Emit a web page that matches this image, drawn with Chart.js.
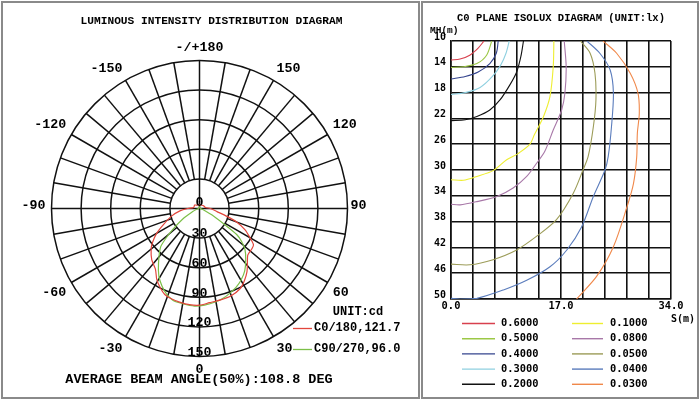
<!DOCTYPE html>
<html><head><meta charset="utf-8">
<script src="https://cdn.jsdelivr.net/npm/chart.js@4/dist/chart.umd.min.js"></script>
<style>
html,body{margin:0;padding:0;background:#fff;width:700px;height:401px;overflow:hidden;}
.box{position:absolute;border:2px solid #8a8a8a;box-sizing:border-box;}
#c1{position:absolute;left:0;top:0;width:420px;height:401px;}
#c2{position:absolute;left:421px;top:0;width:279px;height:401px;}
</style></head><body>
<div class="box" style="left:1px;top:1px;width:419px;height:398px"></div>
<div class="box" style="left:421px;top:1px;width:278px;height:398px"></div>
<canvas id="c1" width="420" height="401"></canvas>
<canvas id="c2" width="279" height="401"></canvas>
<script>
// ---------- Polar (luminous intensity) data ----------
const c0Angles  = [-180,-150,-125,-100,-90,-83,-75,-66,-60,-54,-50,-43,-36,-31,-26,-22,-17,-12,-6,0,6,13,20,27,32,37,41,46,52,56,60,65,70,74,80,90,100,125,150,180];
const c0Values  = [4,4,6,6,12,20,29,40,50,59,64,71,76,84,90,94,96,97,98,98,96,95,94,91,86,80,74,68,67,66,59,51,40,29,18,11,6,5,4,4];
const c90Angles = [-180,-90,-75,-65,-58,-52,-48,-45,-37,-31,-26,-21,-16,-10,-3,3,10,15,20,25,30,36,42,48,52,55,57,62,72,90,180];
const c90Values = [2,1,3,8,20,34,47,56,69,80,87,93,97,98,99,98,96,94,91,88,84,78,70,62,54,46,33,16,4,1,2];
const ringValues = [30,60,90,120,150];
const ringLabels = ['30','60','90','120','150'];
const angleTickValues = [0,30,60,90,120,150,180,-150,-120,-90,-60,-30];
const angleTickLabels = ['0','30','60','90','120','150','-/+180','-150','-120','-90','-60','-30'];
const spokeStep = 10;
const polarSeriesNames = ['C0/180,121.7','C90/270,96.0'];

// ---------- Isolux data (S in m, MH in m) ----------
const isoLevels = ['0.6000','0.5000','0.4000','0.3000','0.2000','0.1000','0.0800','0.0500','0.0400','0.0300'];
const iso06S  = [0,1.4,2.9,4.2,5.1];
const iso06MH = [12.95,12.8,12.2,11.1,10];
const iso05S  = [0,1.9,4.0,5.5,6.3];
const iso05MH = [14.1,14.0,13.5,12.2,10];
const iso04S  = [0,2.2,4.2,6.0,7.0,7.3];
const iso04MH = [15.9,15.5,14.8,13.5,11.9,10];
const iso03S  = [0,2.2,4.5,6.4,7.7,8.5,9.0];
const iso03MH = [18.3,18.0,17.2,15.5,13.7,11.9,10];
const iso02S  = [0,2.2,4.0,6.0,7.6,9.1,10.15,10.8,11.2];
const iso02MH = [22.35,22.2,21.7,20.7,19.1,16.8,14.8,12.4,10];
const iso01S  = [0,1.9,4.0,6.5,8.6,10.3,12.2,12.9,14.3,15.3,15.8,15.9];
const iso01MH = [31.5,31.6,31.0,30.1,28.4,27.5,26.0,24.5,21.7,18.6,14.0,10];
const iso008S  = [0,1.4,4.0,7.1,9.6,11.7,13.2,14.5,15.8,17.1,17.6,17.8,17.5];
const iso008MH = [35.3,35.4,34.9,34.1,32.8,31.0,29.0,27.1,23.8,20.7,18.1,14,10];
const iso005S  = [0,2.9,6.5,10.15,13.2,16.3,18.9,20.4,21.2,22.0,22.4,22.25,21.5,20.0];
const iso005MH = [44.6,44.7,43.9,42.4,40.3,37.7,33.6,30,27.9,23.3,19.1,15.0,11.9,10];
const iso004S  = [0,1.4,4.0,8.1,11.7,15.3,17.9,20.2,22.0,23.8,24.3,24.8,25.1,24.6,23.0,21.0];
const iso004MH = [49.9,50,49.9,48.6,47.1,45.0,42.4,38.8,34.1,30,27.9,23.3,18.1,14.5,11.9,10];
const iso003S  = [19.4,22.5,25.1,27.2,28.2,28.7,28.8,29.1,28.9,27.7,25.6,23.5];
const iso003MH = [50,46.5,41.9,35.7,32.1,28.0,24.3,21.2,18.1,15.0,11.9,10];
const sTicks = [0,3.4,6.8,10.2,13.6,17,20.4,23.8,27.2,30.6,34];
const sLabelTicks = [0,17,34];
const mhTicks = [10,14,18,22,26,30,34,38,42,46,50];

// ---------- styles ----------
const polarColors = ['#e2463c','#7cbf48'];
const isoColors = ['#d8404e','#9cc846','#34448e','#8fd0e0','#111111','#eeee30','#a878a8','#9c9c58','#5a7cbc','#f0884a'];
const MONO = '"Liberation Mono", "DejaVu Sans Mono", monospace';
const DMONO = '"DejaVu Sans Mono", "Liberation Mono", monospace';

function toXY(angles, vals){
  return angles.map((a,i)=>{const t=a*Math.PI/180; return {x: vals[i]*Math.sin(t), y: -vals[i]*Math.cos(t)};});
}

const polarPlugin = {
  id:'polarPlugin',
  beforeDatasetsDraw(chart){
    const {ctx, scales:{x,y}} = chart;
    const cx = x.getPixelForValue(0), cy = y.getPixelForValue(0);
    const k = x.getPixelForValue(1) - cx;
    ctx.save();
    ctx.strokeStyle = '#111'; ctx.lineWidth = 1.5;
    ringValues.forEach(r=>{ctx.beginPath(); ctx.arc(cx,cy,r*k,0,Math.PI*2); ctx.stroke();});
    const rIn = ringValues[0]*k, rOut = ringValues[ringValues.length-1]*k;
    for(let a=0;a<360;a+=spokeStep){
      const t=a*Math.PI/180; const r0 = (a%90===0)?0:rIn;
      ctx.beginPath();
      ctx.moveTo(cx+r0*Math.sin(t), cy+r0*Math.cos(t));
      ctx.lineTo(cx+rOut*Math.sin(t), cy+rOut*Math.cos(t));
      ctx.stroke();
    }
    ctx.restore();
  },
  afterDatasetsDraw(chart){
    const {ctx, scales:{x,y}} = chart;
    const cx = x.getPixelForValue(0), cy = y.getPixelForValue(0);
    const k = x.getPixelForValue(1) - cx;
    const rOut = ringValues[ringValues.length-1]*k;
    ctx.save();
    ctx.fillStyle = '#000';
    ctx.font = 'bold 13.3px '+MONO;
    ctx.textAlign='center'; ctx.textBaseline='middle';
    ctx.fillText('0', cx, cy-6);
    ringValues.forEach((r,i)=>ctx.fillText(ringLabels[i], cx, cy+r*k-4));
    angleTickValues.forEach((a,i)=>{
      const t=a*Math.PI/180, s=Math.sin(t), c=Math.cos(t);
      const ax = cx+(rOut+6)*s, ay = cy+(rOut+6)*c;
      ctx.textAlign = s>0.1?'left':(s<-0.1?'right':'center');
      ctx.textBaseline = c>0.1?'top':(c<-0.1?'bottom':'middle');
      ctx.fillText(angleTickLabels[i], ax - (Math.abs(c)<=0.1 && s>0 ? 3 : 0), ay - (Math.abs(c)<=0.1?3:0));
    });
    ctx.textAlign='center'; ctx.textBaseline='middle';
    ctx.font = 'bold 11.2px '+MONO;
    ctx.fillText('LUMINOUS INTENSITY DISTRIBUTION DIAGRAM', 211.5, 21);
    ctx.font = 'bold 13.5px '+MONO;
    ctx.fillText('AVERAGE BEAM ANGLE(50%):108.8 DEG', 199, 380);
    ctx.font = 'bold 12px '+MONO;
    ctx.fillText('UNIT:cd', 358, 312);
    ctx.textAlign='left';
    polarSeriesNames.forEach((n,i)=>{
      const yy = 328.5 + i*21;
      ctx.strokeStyle = polarColors[i]; ctx.lineWidth=1.3;
      ctx.beginPath(); ctx.moveTo(293, yy); ctx.lineTo(312, yy); ctx.stroke();
      ctx.fillText(n, 314, yy-0.5);
    });
    ctx.restore();
  }
};

new Chart(document.getElementById('c1'), {
  type:'scatter',
  data:{datasets:[
    {label:polarSeriesNames[0], data:toXY(c0Angles,c0Values), showLine:true, borderColor:polarColors[0], borderWidth:1.2, pointRadius:0, tension:0.25},
    {label:polarSeriesNames[1], data:toXY(c90Angles,c90Values), showLine:true, borderColor:polarColors[1], borderWidth:1.2, pointRadius:0, tension:0.25}
  ]},
  options:{
    responsive:false, devicePixelRatio:1, animation:false,
    layout:{padding:{left:51.5,right:72.5,top:60.5,bottom:44.5}},
    plugins:{legend:{display:false}, tooltip:{enabled:false}},
    scales:{
      x:{type:'linear', min:-150, max:150, display:false},
      y:{type:'linear', min:-150, max:150, display:false}
    }
  },
  plugins:[polarPlugin]
});

// ---------- Isolux chart ----------
const isoS  = [iso06S,iso05S,iso04S,iso03S,iso02S,iso01S,iso008S,iso005S,iso004S,iso003S];
const isoMH = [iso06MH,iso05MH,iso04MH,iso03MH,iso02MH,iso01MH,iso008MH,iso005MH,iso004MH,iso003MH];

const isoPlugin = {
  id:'isoPlugin',
  afterDraw(chart){
    const ctx = chart.ctx;
    ctx.save();
    ctx.fillStyle='#000';
    ctx.textAlign='center'; ctx.textBaseline='middle';
    ctx.font='bold 10.5px '+MONO;
    ctx.fillText('C0 PLANE ISOLUX DIAGRAM (UNIT:lx)', 140, 18);
    ctx.textAlign='left';
    ctx.font='bold 9.5px '+MONO;
    ctx.fillText('MH(m)', 9, 31);
    ctx.textAlign='center';
    ctx.font='bold 10px '+DMONO;
    ctx.fillText('S(m)', 262, 319);
    ctx.textAlign='left';
    ctx.font='bold 10.4px '+DMONO;
    isoLevels.forEach((lv,i)=>{
      const col = Math.floor(i/5), row = i%5;
      const yy = 323.5 + row*15.2;
      const x0 = col===0?41:151, x1 = col===0?74:182, xt = col===0?80:189;
      ctx.strokeStyle = isoColors[i]; ctx.lineWidth = 1.4;
      ctx.beginPath(); ctx.moveTo(x0,yy); ctx.lineTo(x1,yy); ctx.stroke();
      ctx.fillText(lv, xt, yy);
    });
    ctx.restore();
  }
};

new Chart(document.getElementById('c2'), {
  type:'scatter',
  data:{datasets: isoLevels.map((lv,i)=>({
    label:lv,
    data:isoS[i].map((s,j)=>({x:s, y:isoMH[i][j]})),
    showLine:true, borderColor:isoColors[i], borderWidth:1.1, pointRadius:0, tension:0.3
  }))},
  options:{
    responsive:false, devicePixelRatio:1, animation:false,
    layout:{padding:{left:0,right:29,top:41,bottom:82}},
    plugins:{legend:{display:false}, tooltip:{enabled:false}},
    scales:{
      x:{type:'linear', min:0, max:34,
         afterBuildTicks:(s)=>{s.ticks = sTicks.map(v=>({value:v}));},
         afterFit:(s)=>{s.height=20;},
         ticks:{autoSkip:false, maxRotation:0, padding:1, color:'#000',
           font:{family:DMONO, size:10.4, weight:'bold'},
           callback:(v)=> sLabelTicks.some(t=>Math.abs(t-v)<1e-6) ? Number(v).toFixed(1) : ''},
         grid:{color:'#111', lineWidth:1.6, drawTicks:false},
         border:{color:'#111', width:1.6}},
      y:{type:'linear', reverse:true, min:10, max:50,
         afterBuildTicks:(s)=>{s.ticks = mhTicks.map(v=>({value:v}));},
         afterFit:(s)=>{s.width=30;},
         ticks:{autoSkip:false, padding:5, labelOffset:-4, color:'#000',
           font:{family:DMONO, size:10, weight:'bold'},
           callback:(v)=>String(v)},
         grid:{color:'#111', lineWidth:1.6, drawTicks:false},
         border:{color:'#111', width:1.6}}
    }
  },
  plugins:[isoPlugin]
});
</script>
</body></html>
